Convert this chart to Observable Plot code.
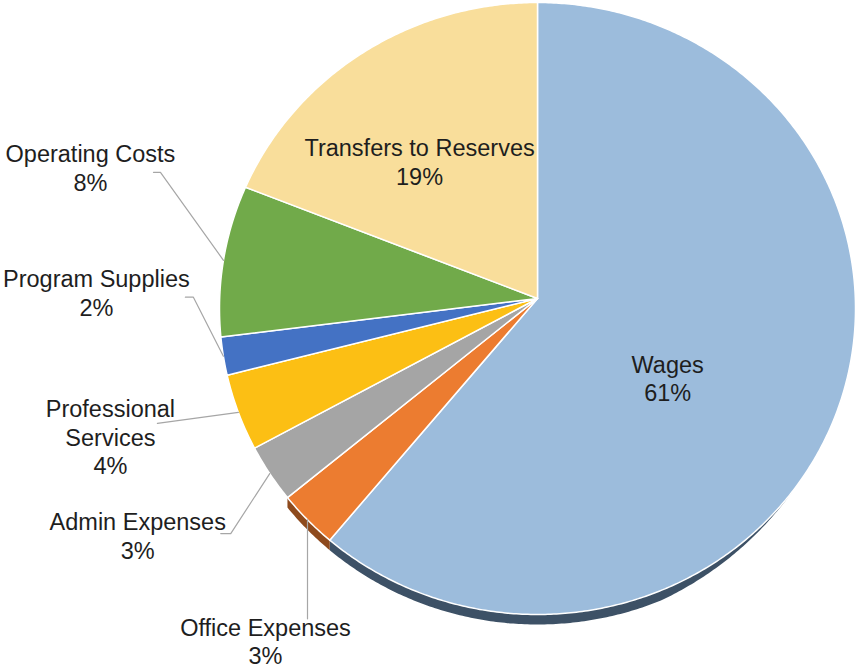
<!DOCTYPE html>
<html>
<head>
<meta charset="utf-8">
<script src="https://cdn.jsdelivr.net/npm/d3@7"></script>
<script src="https://cdn.jsdelivr.net/npm/@observablehq/plot@0.6"></script>
<style>
  html, body { margin: 0; padding: 0; background: #ffffff; }
  #chart { width: 859px; height: 669px; }
</style>
</head>
<body>
<div id="chart"></div>
<script>
// ---- data ----
const categories = ["Wages", "Office Expenses", "Admin Expenses", "Professional Services", "Program Supplies", "Operating Costs", "Transfers to Reserves"];
const labelText  = ["Wages", "Office Expenses", "Admin Expenses", "Professional\nServices", "Program Supplies", "Operating Costs", "Transfers to Reserves"];
const shares     = [61, 3, 3, 4, 2, 8, 19];
const colors     = ["#9cbcdc", "#ec7c30", "#a5a5a5", "#fcbf14", "#4472c4", "#71aa4a", "#f9de9b"];

// ---- layout / style ----
const X_RANGE = [219, 855], Y_RANGE = [2, 614];
const HUB_Y = -0.0327;           // perspective: hub sits a little above the ellipse centre
const RX = (X_RANGE[1] - X_RANGE[0]) / 2, RY = (Y_RANGE[1] - Y_RANGE[0]) / 2;
const FONT = "'Liberation Sans', Arial, sans-serif";
const FONT_SIZE = 23.5, LINE_H = 1.22, TEXT_COLOR = "#1e1e1e";
const SHADOW_PX = 10, TAPER_DEG = 30;
const shadowSpec = [
  {name: "Wages", fromDeg: 128, color: "#3d5166"},
  {name: "Office Expenses", fromDeg: null, color: "#8e4a1d"}
];
const insideLabels = [
  {name: "Wages", f: 0.5, dx: -21, dy: 27},
  {name: "Transfers to Reserves", f: 0.5, dx: -31, dy: -14}
];
const outsideLabels = [
  {name: "Operating Costs", leader: [[-63, -88], [-70, -88]], dx: -133, dy: -93},
  {name: "Program Supplies", leader: [[-30, -59], [-38, -59]], dx: -127, dy: -64},
  {name: "Professional Services", leader: [[-81, 11]], dx: -128, dy: 24},
  {name: "Admin Expenses", leader: [[-39, 60], [-49, 60]], dx: -132, dy: 62},
  {name: "Office Expenses", leader: [[0, 99]], dx: -42, dy: 121}
];

// ---- geometry (unit space, y down) ----
function rimPoint(theta) {
  const sx = Math.sin(theta), sy = -Math.cos(theta);
  const vd = HUB_Y * sy;
  const t = -vd + Math.sqrt(vd * vd - (HUB_Y * HUB_Y - 1));
  return [sx * t, HUB_Y + sy * t];
}
const arcs = d3.pie().sort(null).value((d, i) => shares[i])(categories);
const arcByName = new Map(arcs.map((a, i) => [categories[i], a]));
const step = Math.PI / 360;

const slicePts = [];
arcs.forEach((a, i) => {
  const name = categories[i];
  slicePts.push({name, x: 0, y: HUB_Y});
  const n = Math.max(2, Math.ceil((a.endAngle - a.startAngle) / step));
  for (let k = 0; k <= n; k++) {
    const th = a.startAngle + (a.endAngle - a.startAngle) * k / n;
    const [x, y] = rimPoint(th);
    slicePts.push({name, x, y});
  }
});

const shadowMarks = shadowSpec.map(s => {
  const a = arcByName.get(s.name);
  const t0 = s.fromDeg == null ? a.startAngle : s.fromDeg * Math.PI / 180;
  const t1 = a.endAngle;
  const n = Math.max(2, Math.ceil((t1 - t0) / step));
  const top = [], bottom = [];
  for (let k = 0; k <= n; k++) {
    const th = t0 + (t1 - t0) * k / n;
    const [x, y] = rimPoint(th);
    const taper = s.fromDeg == null ? 1 : Math.min(1, (th - t0) / (TAPER_DEG * Math.PI / 180));
    top.push({x, y: y - 0.004});
    bottom.push({x, y: y + SHADOW_PX * taper / RY});
  }
  const pts = top.concat(bottom.reverse());
  return Plot.line(pts, {x: "x", y: "y", fill: s.color, stroke: "none", curve: "linear-closed"});
});

function midRim(name) {
  const a = arcByName.get(name);
  return rimPoint((a.startAngle + a.endAngle) / 2);
}
const pctOf = name => shares[categories.indexOf(name)];
const textOf = name => labelText[categories.indexOf(name)] + "\n" + pctOf(name) + "%";

const textMarks = [];
insideLabels.forEach(l => {
  const [px, py] = midRim(l.name);
  const row = {x: px * l.f, y: HUB_Y + (py - HUB_Y) * l.f, text: textOf(l.name)};
  textMarks.push(Plot.text([row], {x: "x", y: "y", text: "text", dx: l.dx, dy: l.dy,
    fontSize: FONT_SIZE, lineHeight: LINE_H, fill: TEXT_COLOR, fontFamily: FONT}));
});

const leaderPts = [];
outsideLabels.forEach(l => {
  const [px, py] = midRim(l.name);
  leaderPts.push({name: l.name, x: px, y: py});
  l.leader.forEach(([ox, oy]) => leaderPts.push({name: l.name, x: px + ox / RX, y: py + oy / RY}));
  textMarks.push(Plot.text([{x: px, y: py, text: textOf(l.name)}], {x: "x", y: "y", text: "text", dx: l.dx, dy: l.dy,
    fontSize: FONT_SIZE, lineHeight: LINE_H, fill: TEXT_COLOR, fontFamily: FONT}));
});

const chart = Plot.plot({
  width: 859,
  height: 669,
  margin: 0,
  x: {domain: [-1, 1], range: X_RANGE, axis: null},
  y: {domain: [-1, 1], range: Y_RANGE, axis: null},
  color: {domain: categories, range: colors},
  style: {background: "#ffffff", fontFamily: FONT},
  marks: [
    ...shadowMarks,
    Plot.line(slicePts, {x: "x", y: "y", z: "name", fill: "name", stroke: "#ffffff", strokeWidth: 1.5,
      strokeLinejoin: "round", curve: "linear-closed"}),
    Plot.line(leaderPts, {x: "x", y: "y", z: "name", stroke: "#a6a6a6", strokeWidth: 1.2, curve: "linear"}),
    ...textMarks
  ]
});
document.getElementById("chart").appendChild(chart);
</script>
</body>
</html>
